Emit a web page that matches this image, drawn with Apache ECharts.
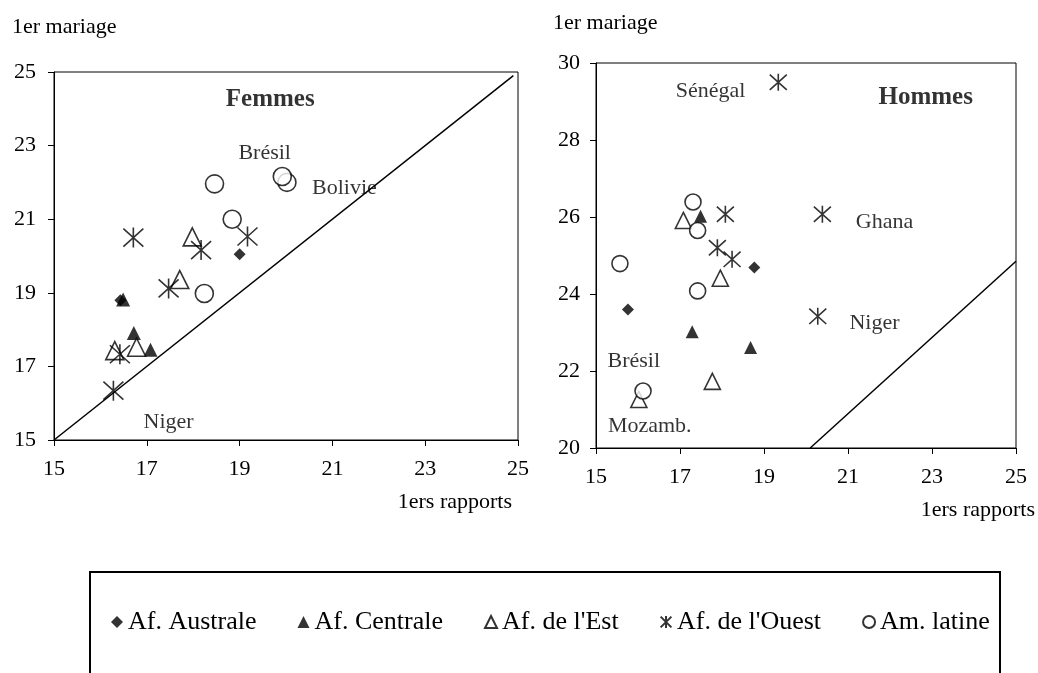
<!DOCTYPE html>
<html>
<head>
<meta charset="utf-8">
<script src="https://cdn.jsdelivr.net/npm/echarts@6/dist/echarts.min.js"></script>
<style>html,body{margin:0;padding:0;background:#fff}#c{width:1038px;height:673px}</style>
</head>
<body>
<div id="c"></div>
<script>
// ---- data (x = 1ers rapports, y = 1er mariage) ----
const seriesNames = ["Af. Australe", "Af. Centrale", "Af. de l'Est", "Af. de l'Ouest", "Am. latine"];
const xTicks = [15, 17, 19, 21, 23, 25];
const yTicksF = [15, 17, 19, 21, 23, 25];
const yTicksH = [20, 22, 24, 26, 28, 30];

const femmesAustrale = [[16.43, 18.80], [19.00, 20.05]];
const femmesCentrale = [[16.49, 18.82], [16.72, 17.91], [17.08, 17.45]];
const femmesEst = [[17.98, 20.52], [17.71, 19.36], [16.31, 17.43], [16.78, 17.52]];
const femmesOuest = [[16.71, 20.50], [19.17, 20.53], [18.17, 20.16], [17.47, 19.12], [16.42, 17.33], [16.28, 16.34]];
const femmesLatine = [[18.46, 21.96], [18.84, 21.00], [18.24, 18.98], [20.02, 22.00], [19.92, 22.16]];

const hommesAustrale = [[18.77, 24.69], [15.76, 23.60]];
const hommesCentrale = [[17.49, 26.02], [17.29, 23.02], [18.68, 22.61]];
const hommesEst = [[17.08, 25.91], [17.96, 24.41], [17.77, 21.73], [16.02, 21.26]];
const hommesOuest = [[19.34, 29.50], [18.08, 26.07], [20.39, 26.07], [17.89, 25.20], [18.24, 24.90], [20.28, 23.42]];
const hommesLatine = [[17.31, 26.39], [17.42, 25.65], [15.57, 24.79], [17.42, 24.08], [16.12, 21.48]];

const femmesDiagonal = [[15, 15], [24.9, 24.9]];
const hommesDiagonal = [[20.1, 20], [25, 24.85]];

const femmesLabels = [
  {name: "Brésil", value: [19.54, 22.80]},
  {name: "Bolivie", value: [21.26, 21.83]},
  {name: "Niger", value: [17.47, 15.48]}
];
const hommesLabels = [
  {name: "Sénégal", value: [17.73, 29.27]},
  {name: "Ghana", value: [21.87, 25.87]},
  {name: "Niger", value: [21.63, 23.23]},
  {name: "Brésil", value: [15.90, 22.26]},
  {name: "Mozamb.", value: [16.28, 20.57]}
];
const femmesTitle = [{name: "Femmes", value: [19.66, 24.24]}];
const hommesTitle = [{name: "Hommes", value: [22.85, 29.11]}];

// ---- styles ----
const FONT = '"Liberation Serif", "Times New Roman", serif';
const STAR = 'path://M1 1 L19 19 M1 19 L19 1 M10 0 L10 20';

function symbolStyle(idx) {
  switch (idx) {
    case 0: return {symbol: 'diamond', itemStyle: {color: '#000'}};
    case 1: return {symbol: 'triangle', itemStyle: {color: '#000'}};
    case 2: return {symbol: 'triangle', itemStyle: {color: '#fff', borderColor: '#000', borderWidth: 1.6}};
    case 3: return {symbol: STAR, itemStyle: {color: 'rgba(0,0,0,0)', borderColor: '#000', borderWidth: 1.6}};
    case 4: return {symbol: 'circle', itemStyle: {color: '#fff', borderColor: '#000', borderWidth: 1.6}};
  }
}
const sizesF = [12, 14, 18, 20, 18];
const sizesH = [12, 13, 16, 17, 16];
const dataF = [femmesAustrale, femmesCentrale, femmesEst, femmesOuest, femmesLatine];
const dataH = [hommesAustrale, hommesCentrale, hommesEst, hommesOuest, hommesLatine];

const series = [];
series.push({type: 'line', xAxisIndex: 0, yAxisIndex: 0, data: femmesDiagonal, symbol: 'none',
  lineStyle: {color: '#000', width: 1.5}, silent: true, z: 1});
series.push({type: 'line', xAxisIndex: 1, yAxisIndex: 1, data: hommesDiagonal, symbol: 'none',
  lineStyle: {color: '#000', width: 1.5}, silent: true, z: 1});
for (let i = 0; i < 5; i++) {
  const s = symbolStyle(i);
  series.push(Object.assign({type: 'scatter', name: seriesNames[i], xAxisIndex: 0, yAxisIndex: 0,
    data: dataF[i], symbolSize: sizesF[i], z: 2 + i}, s));
  series.push(Object.assign({type: 'scatter', name: seriesNames[i], xAxisIndex: 1, yAxisIndex: 1,
    data: dataH[i], symbolSize: sizesH[i], z: 2 + i}, s));
}
function textSeries(data, xi, bold, size) {
  return {type: 'scatter', xAxisIndex: xi, yAxisIndex: xi, data: data, symbolSize: 1,
    itemStyle: {color: 'rgba(0,0,0,0)'}, silent: true, z: 10,
    label: {show: true, position: 'inside', formatter: '{b}', color: '#000',
      fontFamily: FONT, fontSize: size, fontWeight: bold ? 'bold' : 'normal'}};
}
series.push(textSeries(femmesLabels, 0, false, 22));
series.push(textSeries(hommesLabels, 1, false, 22));
series.push(textSeries(femmesTitle, 0, true, 25));
series.push(textSeries(hommesTitle, 1, true, 25));

function xAxisDef(gi) {
  return {type: 'value', gridIndex: gi, min: 15, max: 25, interval: 2,
    axisLine: {show: true, lineStyle: {color: '#000', width: 1}},
    axisTick: {show: true, inside: false, length: 6, lineStyle: {color: '#000'}},
    axisLabel: {color: '#000', fontFamily: FONT, fontSize: 22, margin: 18},
    splitLine: {show: false}};
}
function yAxisDef(gi, min, max, margin) {
  return {type: 'value', gridIndex: gi, min: min, max: max, interval: 2,
    axisLine: {show: true, lineStyle: {color: '#000', width: 1}},
    axisTick: {show: true, inside: false, length: 6, lineStyle: {color: '#000'}},
    axisLabel: {color: '#000', fontFamily: FONT, fontSize: 22, margin: margin},
    splitLine: {show: false}};
}

function gText(text, x, y, align) {
  return {type: 'text', x: x, y: y, silent: true,
    style: {text: text, fill: '#000', font: '22px ' + FONT, textAlign: align, textVerticalAlign: 'middle',
      align: align, verticalAlign: 'middle'}};
}

const option = {
  animation: false,
  backgroundColor: '#fff',
  grid: [
    {left: 54, top: 72, width: 464, height: 368, show: true, borderColor: '#000', borderWidth: 1, backgroundColor: 'transparent'},
    {left: 596, top: 63, width: 420, height: 385, show: true, borderColor: '#000', borderWidth: 1, backgroundColor: 'transparent'}
  ],
  xAxis: [xAxisDef(0), xAxisDef(1)],
  yAxis: [yAxisDef(0, 15, 25, 18), yAxisDef(1, 20, 30, 16)],
  legend: {
    data: seriesNames,
    left: 106, top: 604,
    itemWidth: 12, itemHeight: 12, itemGap: 41,
    textStyle: {color: '#000', fontFamily: FONT, fontSize: 26},
    selectedMode: false
  },
  graphic: [
    {type: 'rect', shape: {x: 90, y: 572, width: 910, height: 130}, silent: true,
      style: {fill: 'none', stroke: '#000', lineWidth: 2}},
    gText('1er mariage', 12, 27, 'left'),
    gText('1er mariage', 553, 23, 'left'),
    gText('1ers rapports', 512, 502, 'right'),
    gText('1ers rapports', 1035, 510, 'right')
  ],
  series: series
};

const chart = echarts.init(document.getElementById('c'), null, {renderer: 'canvas'});
chart.setOption(option);
</script>
</body>
</html>
